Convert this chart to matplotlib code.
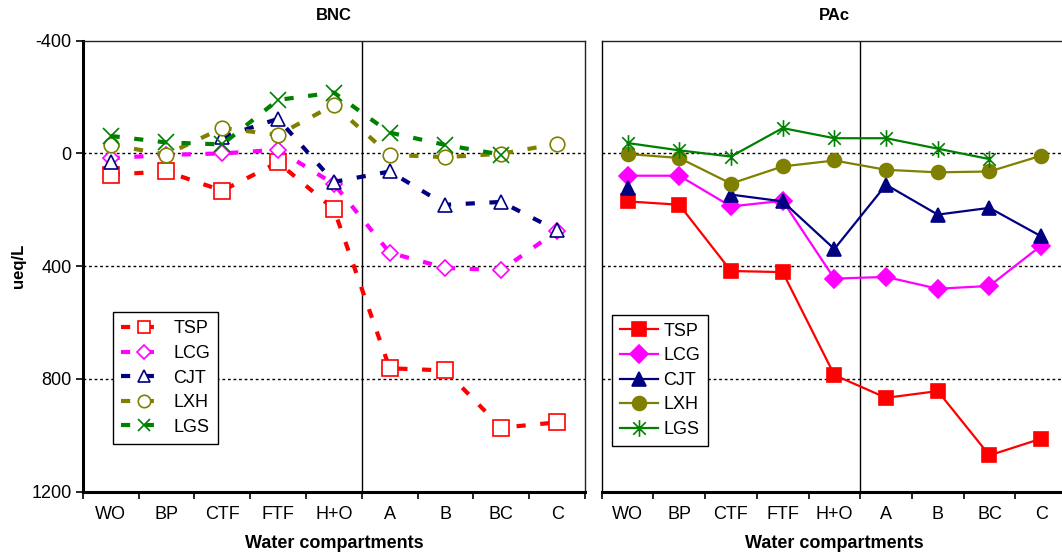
import numpy as np
import matplotlib
matplotlib.use('Agg')
import matplotlib.pyplot as plt
from matplotlib.path import Path

plt.rcParams['font.family'] = ['Liberation Sans', 'DejaVu Sans']
plt.rcParams['axes.unicode_minus'] = False

# ── Data ──────────────────────────────────────────────────────────────────────
categories = ['WO', 'BP', 'CTF', 'FTF', 'H+O', 'A', 'B', 'BC', 'C']
series_names = ['TSP', 'LCG', 'CJT', 'LXH', 'LGS']
nan = np.nan

# BNC (left panel)
bnc_tsp = [75, 64, 132, 32, 197, 762, 770, 973, 954]
bnc_lcg = [17, 5, 0, -13, 108, 352, 406, 414, 275]
bnc_cjt = [32, nan, -58, -123, 101, 64, 182, 172, 273]
bnc_lxh = [-31, 4, -90, -66, -172, 5, 13, 1, -34]
bnc_lgs = [-62, -39, -32, -190, -216, -74, -30, 4, nan]

# PAc (right panel)
pac_tsp = [170, 182, 417, 421, 786, 867, 843, 1071, 1012]
pac_lcg = [79, 79, 188, 168, 444, 438, 480, 470, 327]
pac_cjt = [123, nan, 146, 170, 339, 111, 217, 193, 294]
pac_lxh = [2, 16, 107, 46, 25, 58, 67, 64, 8]
pac_lgs = [-37, -11, 11, -90, -54, -54, -17, 20, nan]

colors = ['#FF0000', '#FF00FF', '#000080', '#808000', '#008000']

# Excel-like star: vertical bar plus an X
_star = Path([(0, -1), (0, 1), (-0.75, -0.75), (0.75, 0.75), (-0.75, 0.75), (0.75, -0.75)],
             [Path.MOVETO, Path.LINETO, Path.MOVETO, Path.LINETO, Path.MOVETO, Path.LINETO])

W, H = 1062, 552
fig = plt.figure(figsize=(W / 100, H / 100), dpi=100)
ax_l = fig.add_axes([82.7 / W, (H - 491.7) / H, 502.3 / W, 451 / H])
ax_r = fig.add_axes([601.7 / W, (H - 491.7) / H, 465.3 / W, 451 / H])

x = np.arange(len(categories))


def style_axes(ax, title, show_y):
    ax.set_xlim(-0.5, len(categories) - 0.5)
    ax.set_ylim(1200, -400)
    ax.set_xticks(np.arange(-0.5, len(categories), 1.0))
    ax.set_xticklabels([])
    ax.set_xticks(x, minor=True)
    ax.set_xticklabels(categories, minor=True, fontsize=13)
    ax.tick_params(axis='x', which='major', direction='out', length=5, width=1.2)
    ax.tick_params(axis='x', which='minor', length=0, pad=10)
    ax.set_yticks([-400, 0, 400, 800, 1200])
    if show_y:
        ax.tick_params(axis='y', direction='out', length=5, width=1.2, labelsize=13, pad=3)
        ax.set_ylabel('ueq/L', fontsize=12, fontweight='bold', labelpad=4)
    else:
        ax.tick_params(axis='y', length=0, labelleft=False)
    for v in (0, 400, 800):
        ax.axhline(v, color='black', lw=1.0, ls=(0, (2, 2)), zorder=1)
    ax.axvline(4.5, color='black', lw=1.0, zorder=1)
    for s in ('top', 'right'):
        ax.spines[s].set_linewidth(1.0)
        ax.spines[s].set_color('#222222')
    ax.spines['bottom'].set_linewidth(2.2)
    ax.spines['left'].set_linewidth(2.2 if show_y else 1.0)
    ax.set_xlabel('Water compartments', fontsize=13, fontweight='bold', labelpad=9)
    ax.set_title(title, fontsize=12, fontweight='bold', pad=15)


# Left: dashed lines, hollow markers
bnc = [bnc_tsp, bnc_lcg, bnc_cjt, bnc_lxh, bnc_lgs]
markers_l = ['s', 'D', '^', 'o', 'x']
sizes_l = [11, 8.5, 10.5, 10.5, 11]
for i, (vals, name) in enumerate(zip(bnc, series_names)):
    ax_l.plot(x, vals, color=colors[i], lw=3.0, dashes=(2.2, 3.5),
              marker=markers_l[i], markersize=sizes_l[i], markerfacecolor='white',
              markeredgecolor=colors[i], markeredgewidth=1.2, label=name, zorder=3 + i)
style_axes(ax_l, 'BNC', True)
leg = ax_l.legend(loc='lower left', bbox_to_anchor=(0.06, 0.106), borderaxespad=0,
                  fontsize=13, handlelength=2.6, labelspacing=0.42, handletextpad=0.3,
                  borderpad=0.45, fancybox=False, edgecolor='black', framealpha=1,
                  markerscale=0.85)
leg.get_frame().set_linewidth(1.0)

# Right: solid lines, filled markers
pac = [pac_tsp, pac_lcg, pac_cjt, pac_lxh, pac_lgs]
markers_r = ['s', 'D', '^', 'o', _star]
sizes_r = [10, 9, 10, 10, 12]
for i, (vals, name) in enumerate(zip(pac, series_names)):
    ax_r.plot(x, vals, color=colors[i], lw=1.6, marker=markers_r[i], markersize=sizes_r[i],
              markerfacecolor=colors[i], markeredgecolor=colors[i], markeredgewidth=1.2,
              label=name, zorder=3 + i)
style_axes(ax_r, 'PAc', False)
leg = ax_r.legend(loc='lower left', bbox_to_anchor=(0.022, 0.101), borderaxespad=0,
                  fontsize=13, handlelength=2.1, labelspacing=0.42, handletextpad=0.3,
                  borderpad=0.45, fancybox=False, edgecolor='black', framealpha=1)
leg.get_frame().set_linewidth(1.0)

fig.savefig('out.png', dpi=100)
